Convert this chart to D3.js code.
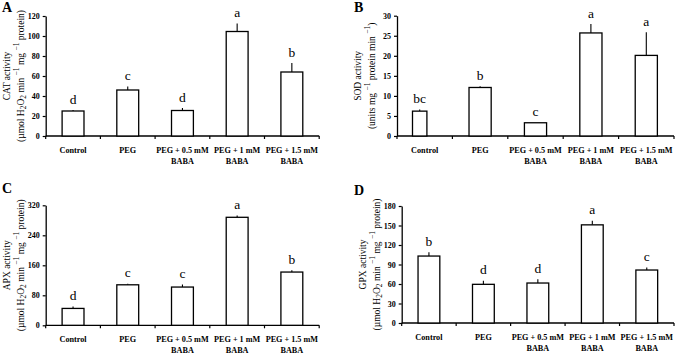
<!DOCTYPE html>
<html><head><meta charset="utf-8">
<script src="https://cdn.jsdelivr.net/npm/d3@7"></script>
<style>
html,body{margin:0;padding:0;background:#fff;}
svg{display:block;}
text{font-family:"Liberation Serif","Times New Roman",serif;fill:#000;}
</style></head>
<body>
<svg id="chart" width="676" height="354"></svg>
<script>
// ---- data ----
const categories = [["Control"], ["PEG"], ["PEG + 0.5 mM", "BABA"], ["PEG + 1 mM", "BABA"], ["PEG + 1.5 mM", "BABA"]];

const catValues  = [25, 46, 25.5, 104.5, 64];
const catErrors  = [1, 3.5, 2.5, 8, 9];
const catLetters = ["d", "c", "d", "a", "b"];
const catTicks   = [0, 20, 40, 60, 80, 100, 120];

const sodValues  = [6.2, 12.1, 3.3, 25.7, 20.1];
const sodErrors  = [0.4, 0.3, 0, 2.2, 5.8];
const sodLetters = ["bc", "b", "c", "a", "a"];
const sodTicks   = [0, 5, 10, 15, 20, 25, 30];

const apxValues  = [45, 108, 102, 288, 142];
const apxErrors  = [5, 3, 7, 5, 5];
const apxLetters = ["d", "c", "c", "a", "b"];
const apxTicks   = [0, 80, 160, 240, 320];

const gpxValues  = [103, 59.5, 61.5, 151, 81.5];
const gpxErrors  = [6, 5.5, 6, 6.5, 4];
const gpxLetters = ["b", "d", "d", "a", "c"];
const gpxTicks   = [0, 30, 60, 90, 120, 150, 180];

const panelLetters = ["A", "B", "C", "D"];
const titleMain = ["CAT activity", "SOD activity", "APX activity", "GPX activity"];
// unit line pieces: [text, kind] kind: n normal, sup, sub
const unitH2O2 = [["(µmol H", "n"], ["2", "sub"], ["O", "n"], ["2", "sub"], [" min ", "n"], ["−1", "sup"], [" mg ", "n"], ["−1", "sup"], [" protein)", "n"]];
const unitSOD  = [["(units mg ", "n"], ["−1", "sup"], [" protein min ", "n"], ["−1", "sup"], [")", "n"]];

// ---- layout ----
const panels = [
  {values: catValues, errors: catErrors, letters: catLetters, ticks: catTicks, unit: unitH2O2,
   x0: 45.7, x1: 319.2, yTop: 16, yBot: 136, lx: 2, ly: 12, gap: 11.8, adj: {}},
  {values: sodValues, errors: sodErrors, letters: sodLetters, ticks: sodTicks, unit: unitSOD,
   x0: 397, x1: 674, yTop: 15.7, yBot: 136, lx: 354, ly: 12, gap: 11.8, adj: {0: {f: 0.26, dx: -5}}},
  {values: apxValues, errors: apxErrors, letters: apxLetters, ticks: apxTicks, unit: unitH2O2,
   x0: 45.7, x1: 319.2, yTop: 205.3, yBot: 325.3, lx: 2, ly: 193, gap: 11.2, adj: {}},
  {values: gpxValues, errors: gpxErrors, letters: gpxLetters, ticks: gpxTicks, unit: unitH2O2,
   x0: 401.7, x1: 674, yTop: 206, yBot: 323, lx: 354, ly: 195, gap: 11.5, adj: {}}
];

const svg = d3.select("#chart");
const FONT = "Liberation Serif";

panels.forEach((p, i) => {
  const g = svg.append("g");
  const x = d3.scaleBand().domain(d3.range(categories.length)).range([p.x0, p.x1]).padding(0);
  const y = d3.scaleLinear().domain([0, d3.max(p.ticks)]).range([p.yBot, p.yTop]);
  const bwOf = k => x.bandwidth() * (p.adj[k] ? p.adj[k].f : 0.4);
  const cx = k => x(k) + x.bandwidth() / 2 + (p.adj[k] ? p.adj[k].dx : 0);

  // panel letter
  g.append("text").attr("x", p.lx).attr("y", p.ly).attr("font-family", FONT).attr("fill", "#000")
    .attr("font-size", 14).attr("font-weight", "bold").text(panelLetters[i]);

  // y axis
  const yAxis = d3.axisLeft(y).tickValues(p.ticks).tickSize(3).tickPadding(3).tickSizeOuter(0);
  const ya = g.append("g").attr("transform", `translate(${p.x0},0)`).call(yAxis);
  ya.select(".domain").attr("stroke", "#000").attr("stroke-width", 1.3);
  ya.selectAll(".tick line").attr("stroke", "#000").attr("stroke-width", 1.2);
  ya.selectAll(".tick text").attr("font-family", FONT).attr("font-weight", "bold")
    .attr("font-size", 8).attr("fill", "#000");

  // x axis: line + ticks at band edges
  g.append("line").attr("x1", p.x0).attr("x2", p.x1).attr("y1", p.yBot).attr("y2", p.yBot)
    .attr("stroke", "#000").attr("stroke-width", 1.3);
  const edges = d3.range(categories.length + 1).map(k => k < categories.length ? x(k) : p.x1);
  g.selectAll("line.xt").data(edges).join("line").attr("class", "xt")
    .attr("x1", d => d).attr("x2", d => d).attr("y1", p.yBot).attr("y2", p.yBot + 3)
    .attr("stroke", "#000").attr("stroke-width", 1.2);

  // category labels
  categories.forEach((lines, k) => {
    const t = g.append("text").attr("text-anchor", "middle").attr("font-weight", "bold")
      .attr("font-family", FONT).attr("fill", "#000").attr("font-size", 8.2);
    lines.forEach((ln, j) => {
      t.append("tspan").attr("x", x(k) + x.bandwidth() / 2).attr("y", p.yBot + 16.5 + j * p.gap).text(ln);
    });
  });

  // error bars
  g.selectAll("line.err").data(p.values).join("line").attr("class", "err")
    .attr("x1", (d, k) => cx(k)).attr("x2", (d, k) => cx(k))
    .attr("y1", d => y(d)).attr("y2", (d, k) => y(d + p.errors[k]))
    .attr("stroke", "#000").attr("stroke-width", 1.1);

  // bars
  g.selectAll("rect.bar").data(p.values).join("rect").attr("class", "bar")
    .attr("x", (d, k) => cx(k) - bwOf(k) / 2).attr("width", (d, k) => bwOf(k))
    .attr("y", d => y(d)).attr("height", d => p.yBot - y(d))
    .attr("fill", "#fff").attr("stroke", "#000").attr("stroke-width", 1.3);

  // significance letters
  g.selectAll("text.sig").data(p.letters).join("text").attr("class", "sig")
    .attr("x", (d, k) => cx(k))
    .attr("y", (d, k) => y(p.values[k] + p.errors[k]) - 6.5)
    .attr("text-anchor", "middle").attr("font-family", FONT).attr("fill", "#000")
    .attr("font-size", 13.5).text(d => d);

  // y title
  const cy = (p.yTop + p.yBot) / 2;
  const tt = g.append("g").attr("transform", `translate(${p.x0 - 36},${cy}) rotate(-90)`);
  tt.append("text").attr("x", 0).attr("y", 0).attr("text-anchor", "middle").attr("font-size", 9.5)
    .attr("font-family", FONT).attr("fill", "#000").text(titleMain[i]);
  const t2 = tt.append("text").attr("x", 0).attr("y", 14).attr("text-anchor", "middle").attr("font-size", 9.5)
    .attr("font-family", FONT).attr("fill", "#000");
  p.unit.forEach(([s, kind]) => {
    const ts = t2.append("tspan").text(s);
    if (kind === "sup") ts.attr("font-size", 7.5).attr("baseline-shift", "60%");
    if (kind === "sub") ts.attr("font-size", 7.5).attr("baseline-shift", "-25%");
  });
});
</script>
</body></html>
